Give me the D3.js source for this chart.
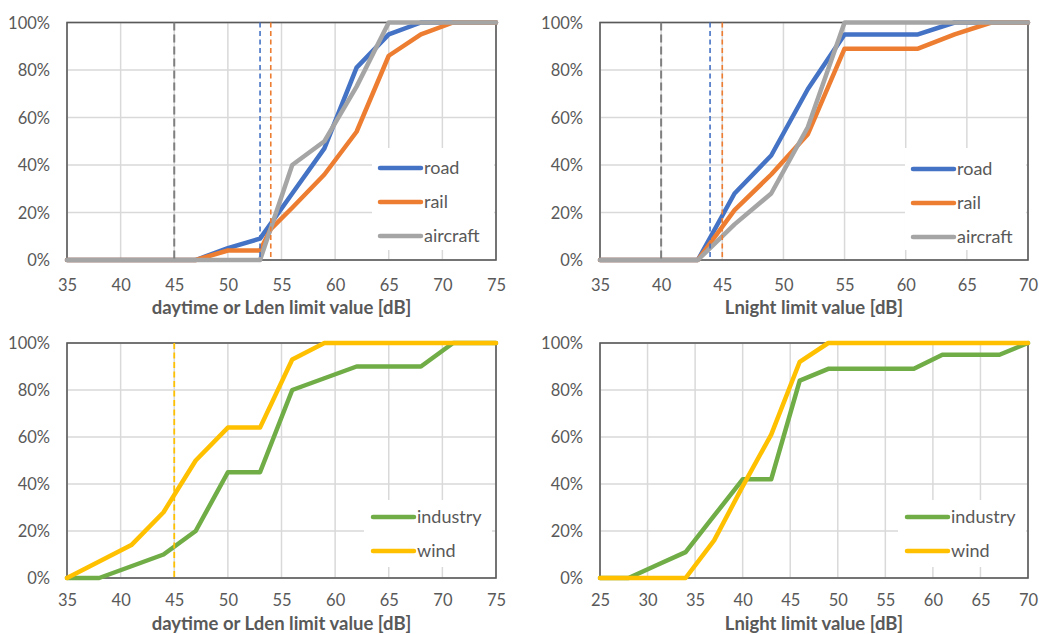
<!DOCTYPE html>
<html><head><meta charset="utf-8">
<script src="https://cdn.jsdelivr.net/npm/d3@7"></script>
<style>
body{margin:0;background:#fff}
text{font-family:Lato,"Open Sans",sans-serif;fill:#595959}
</style>
</head><body>
<svg id="c" width="1039" height="634"></svg>
<script>
// ---------- tick labels ----------
const dayTicks = [35,40,45,50,55,60,65,70,75];
const nightTicks = [35,40,45,50,55,60,65,70];
const nightTicksWide = [25,30,35,40,45,50,55,60,65,70];
const pctTicks = [0,20,40,60,80,100];

// ---------- panel 1: daytime / Lden (transport) ----------
const roadDayX = [35,47,50,53,56,59,62,65,68,75];
const roadDayY = [0,0,5,9,28,47,81,95,100,100];
const railDayX = [35,47,50,53,54,56,59,62,65,68,71,75];
const railDayY = [0,0,4,4,13,22,36,54,86,95,100,100];
const airDayX  = [35,53,56,59,62,65,75];
const airDayY  = [0,0,40,50,73,100,100];
const dayLimitsTransport = [45,53,54];   // aircraft, road, rail

// ---------- panel 2: Lnight (transport) ----------
const roadNightX = [35,43,46,49,52,55,58,61,64,70];
const roadNightY = [0,0,28,44,72,95,95,95,100,100];
const railNightX = [35,43,46,49,52,55,58,61,64,67,70];
const railNightY = [0,0,21,36,53,89,89,89,95,100,100];
const airNightX  = [35,43,46,49,52,55,70];
const airNightY  = [0,0,15,28,56,100,100];
const nightLimitsTransport = [40,44,45]; // aircraft, road, rail

// ---------- panel 3: daytime / Lden (industry, wind) ----------
const indDayX  = [35,38,41,44,47,50,53,56,59,62,65,68,71,75];
const indDayY  = [0,0,5,10,20,45,45,80,85,90,90,90,100,100];
const windDayX = [35,41,44,47,50,53,56,59,75];
const windDayY = [0,14,28,50,64,64,93,100,100];
const dayLimitsWind = [45];

// ---------- panel 4: Lnight (industry, wind) ----------
const indNightX  = [25,28,31,34,37,40,43,46,49,52,55,58,61,64,67,70];
const indNightY  = [0,0,5.5,11,26.5,42,42,84,89,89,89,89,95,95,95,100];
const windNightX = [25,28,31,34,37,40,43,46,49,70];
const windNightY = [0,0,0,0,16,39,61,92,100,100];

const COL = {road:"#4472c4", rail:"#ed7d31", aircraft:"#a5a5a5", industry:"#70ad47", wind:"#ffc000", grey:"#7f7f7f"};

const panels = [
  {box:[67,496,22.5,260], domain:[35,75], ticks:dayTicks, title:"daytime or Lden limit value [dB]", tickY:31, titleY:314,
   series:[{name:"road",x:roadDayX,y:roadDayY,c:COL.road},{name:"rail",x:railDayX,y:railDayY,c:COL.rail},{name:"aircraft",x:airDayX,y:airDayY,c:COL.aircraft}],
   limits:[{v:dayLimitsTransport[0],c:COL.grey,w:2,d:"8,4"},{v:dayLimitsTransport[1],c:COL.road,w:1.6,d:"5,3.5"},{v:dayLimitsTransport[2],c:COL.rail,w:1.6,d:"5,3.5"}],
   legend:{rect:[372,148,122,102], lx:380, ly:168}},
  {box:[600,1028,22.5,260], domain:[35,70], ticks:nightTicks, title:"Lnight limit value [dB]", tickY:31, titleY:314,
   series:[{name:"road",x:roadNightX,y:roadNightY,c:COL.road},{name:"rail",x:railNightX,y:railNightY,c:COL.rail},{name:"aircraft",x:airNightX,y:airNightY,c:COL.aircraft}],
   limits:[{v:nightLimitsTransport[0],c:COL.grey,w:2,d:"8,4"},{v:nightLimitsTransport[1],c:COL.road,w:1.6,d:"5,3.5"},{v:nightLimitsTransport[2],c:COL.rail,w:1.6,d:"5,3.5"}],
   legend:{rect:[905,148,121,102], lx:913, ly:169}},
  {box:[67,496,343,578], domain:[35,75], ticks:dayTicks, title:"daytime or Lden limit value [dB]", tickY:28, titleY:630,
   series:[{name:"industry",x:indDayX,y:indDayY,c:COL.industry},{name:"wind",x:windDayX,y:windDayY,c:COL.wind}],
   limits:[{v:dayLimitsWind[0],c:COL.wind,w:1.8,d:"6,3.5"}],
   legend:{rect:[364,500,128,67], lx:373, ly:517}},
  {box:[600,1028,343,578], domain:[25,70], ticks:nightTicksWide, title:"Lnight limit value [dB]", tickY:28, titleY:630,
   series:[{name:"industry",x:indNightX,y:indNightY,c:COL.industry},{name:"wind",x:windNightX,y:windNightY,c:COL.wind}],
   limits:[],
   legend:{rect:[898,500,128,67], lx:907, ly:517}}
];

const svg = d3.select("#c");

panels.forEach(p => {
  const [x0,x1,yt,yb] = p.box;
  const x = d3.scaleLinear().domain(p.domain).range([x0,x1]);
  const y = d3.scaleLinear().domain([0,100]).range([yb,yt]);
  const g = svg.append("g");

  // grid
  g.append("g").selectAll("line.v").data(p.ticks).join("line")
    .attr("x1",d=>x(d)).attr("x2",d=>x(d)).attr("y1",yt).attr("y2",yb)
    .attr("stroke","#d9d9d9").attr("stroke-width",1.5);
  g.append("g").selectAll("line.h").data(pctTicks).join("line")
    .attr("x1",x0).attr("x2",x1).attr("y1",d=>y(d)).attr("y2",d=>y(d))
    .attr("stroke","#d9d9d9").attr("stroke-width",1.5);

  // legend background (covers grid)
  const L = p.legend;
  g.append("rect").attr("x",L.rect[0]).attr("y",L.rect[1]).attr("width",L.rect[2]).attr("height",L.rect[3]).attr("fill","#fff");

  // frame
  g.append("rect").attr("x",x0).attr("y",yt).attr("width",x1-x0).attr("height",yb-yt)
    .attr("fill","none").attr("stroke","#595959").attr("stroke-width",1.6);

  // axes (labels only)
  const ax = d3.axisBottom(x).tickValues(p.ticks).tickSize(0).tickPadding(0).tickFormat(d3.format("d"));
  const axg = g.append("g").attr("transform",`translate(0,${yb})`).call(ax);
  axg.select(".domain").remove();
  axg.selectAll("text").attr("y",p.tickY).attr("dy",0).attr("font-size",16.5).style("fill","#595959").style("font-family","Lato");
  const ay = d3.axisLeft(y).tickValues(pctTicks).tickSize(0).tickPadding(0).tickFormat(d=>d+"%");
  const ayg = g.append("g").attr("transform",`translate(${x0-17},0)`).call(ay);
  ayg.select(".domain").remove();
  ayg.selectAll("text").attr("x",0).attr("dy","0.35em").attr("font-size",16.5).style("fill","#595959").style("font-family","Lato");

  // axis title
  g.append("text").attr("x",(x0+x1)/2).attr("y",p.titleY).attr("text-anchor","middle")
    .attr("font-size",18.5).attr("font-weight","bold").text(p.title);

  // series
  const line = d3.line().x(d=>x(d[0])).y(d=>y(d[1]));
  p.series.forEach(s => {
    g.append("path").attr("d",line(s.x.map((v,i)=>[v,s.y[i]])))
      .attr("fill","none").attr("stroke",s.c).attr("stroke-width",4.5)
      .attr("stroke-linejoin","round").attr("stroke-linecap","round");
  });

  // limit lines
  p.limits.forEach(l => {
    g.append("line").attr("x1",x(l.v)).attr("x2",x(l.v)).attr("y1",yt).attr("y2",yb)
      .attr("stroke",l.c).attr("stroke-width",l.w).attr("stroke-dasharray",l.d);
  });

  // legend entries
  p.series.forEach((s,i) => {
    const ly = L.ly + i*34;
    g.append("line").attr("x1",L.lx).attr("x2",L.lx+41).attr("y1",ly).attr("y2",ly)
      .attr("stroke",s.c).attr("stroke-width",4.5).attr("stroke-linecap","round");
    g.append("text").attr("x",L.lx+44).attr("y",ly).attr("dy","0.35em").attr("font-size",18).text(s.name);
  });
});
</script>
</body></html>
